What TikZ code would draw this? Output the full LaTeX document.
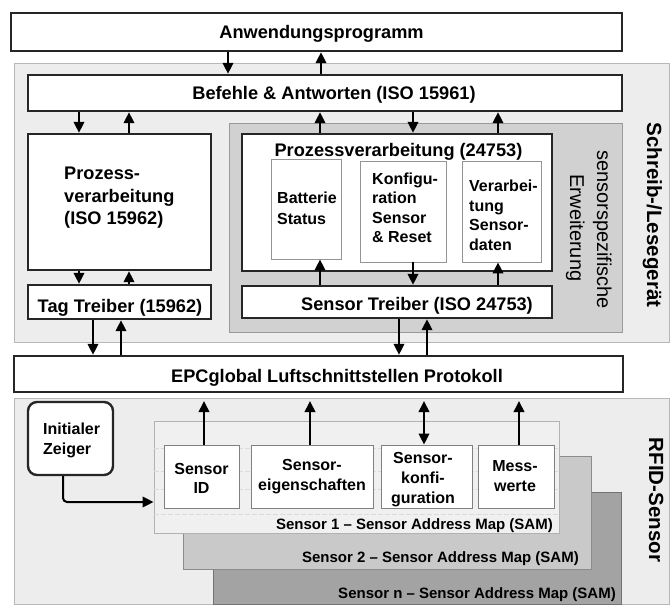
\documentclass[tikz,border=0pt]{standalone}
\usepackage{fontspec}
\setmainfont{Liberation Sans}
\usetikzlibrary{arrows.meta,fit}

\begin{document}
\begin{tikzpicture}[x=1pt,y=-1pt,
  frame/.style={draw=black!85, line width=2.4pt, fill=white, inner sep=0pt},
  zone/.style={draw=black!28, line width=0.8pt, fill=black!7, inner sep=0pt},
  extzone/.style={draw=black!40, line width=1pt, fill=black!18, inner sep=0pt},
  cell/.style={draw=black!42, line width=0.9pt, fill=white, inner sep=0pt},
  samcell/.style={draw=black!50, line width=0.9pt, fill=white, inner sep=0pt},
  samA/.style={draw=black!30, line width=0.9pt, fill=black!6, inner sep=0pt},
  samB/.style={draw=black!45, line width=0.9pt, fill=black!21, inner sep=0pt},
  samC/.style={draw=black!55, line width=0.9pt, fill=black!36, inner sep=0pt},
  big/.style={font=\bfseries\fontsize{18.2}{22.5}\selectfont, inner sep=0pt},
  small/.style={font=\bfseries\fontsize{16}{19.5}\selectfont, inner sep=0pt},
  samtxt/.style={font=\bfseries\fontsize{15}{18}\selectfont, inner sep=0pt, anchor=base east},
  side/.style={font=\bfseries\fontsize{20.5}{24}\selectfont, inner sep=0pt, rotate=-90, anchor=base},
  sidelight/.style={font=\fontsize{20}{24}\selectfont, inner sep=0pt, rotate=-90, anchor=base},
  arr/.style={line width=2pt, -{Triangle[length=11pt,width=10.5pt]}},
  dblarr/.style={line width=2pt, {Triangle[length=11pt,width=10.5pt]}-{Triangle[length=11pt,width=10.5pt]}},
  grid/.style={draw=black!14, line width=0.6pt, dash pattern=on 5pt off 2pt}
]
\useasboundingbox[fill=white] (0,0) rectangle (672,605);

% column positions of the connectors
\foreach \xx in {63,79,93,121,129,204,228,310,320,321,399,413,424,427,498,519}
  \coordinate (x\xx) at (\xx,0);
\coordinate (antenna) at (0,401);
\coordinate (bend) at (0,502);

% background zones
\node[zone, fit={(14,63) (669,342)}] (reader) {};
\node[extzone, fit={(229,123) (622,332)}] (ext) {};
\node[zone, fit={(14,398) (669,604)}] (rfid) {};

% application layer
\node[frame, fit={(11,13) (622,51)}] (app) {};
\node[frame, fit={(28,75) (622,111)}] (bef) {};

% ISO 15962 side
\node[frame, fit={(28,134) (211,270)}] (procL) {};
\node[frame, fit={(28,285) (211,319)}] (tag) {};

% ISO 24753 side
\node[frame, fit={(242,134) (552,271)}] (procS) {};
\node[frame, fit={(242,286) (552,318)}] (sdrv) {};
\node[cell, fit={(271,159) (341,259)}] (bat) {};
\node[cell, fit={(360,161) (446,262)}] (konf) {};
\node[cell, fit={(462,161) (541,262)}] (verb) {};

% air interface
\node[frame, fit={(14,356) (623,392)}] (epc) {};

% sensor address maps
\node[samC, fit={(213,492) (621,604)}] (samn) {};
\node[samB, fit={(183,456) (591,569)}] (sam2) {};
\node[samA, fit={(154,421) (559,533)}] (sam1) {};
\foreach \yy in {448,471,489,514}
  \draw[grid] (sam1.west |- 0,\yy) -- (sam1.east |- 0,\yy);
\node[samcell, fit={(164,445) (239,508)}] (sid) {};
\node[samcell, fit={(251,445) (373,508)}] (seig) {};
\node[samcell, fit={(381,445) (472,508)}] (skonf) {};
\node[samcell, fit={(478,445) (554,508)}] (mess) {};

\node[frame, rounded corners=9pt, fit={(28,402) (113,475)}] (zeiger) {};

% connectors
\draw[arr] (x228 |- app.south) -- (x228 |- bef.north);
\draw[arr] (x321 |- bef.north) -- (x321 |- app.south);

\draw[arr] (x79 |- bef.south) -- (x79 |- procL.north);
\draw[arr] (x129 |- procL.north) -- (x129 |- bef.south);
\draw[arr] (x79 |- procL.south) -- (x79 |- tag.north);
\draw[arr] (x129 |- tag.north) -- (x129 |- procL.south);
\draw[arr] (x93 |- tag.south) -- (x93 |- epc.north);
\draw[arr] (x121 |- epc.north) -- (x121 |- tag.south);

\draw[arr] (x320 |- procS.north) -- (x320 |- bef.south);
\draw[arr] (x413 |- bef.south) -- (x413 |- procS.north);
\draw[arr] (x498 |- procS.north) -- (x498 |- bef.south);
\draw[arr] (x320 |- sdrv.north) -- (x320 |- bat.south);
\draw[arr] (x413 |- konf.south) -- (x413 |- sdrv.north);
\draw[arr] (x498 |- sdrv.north) -- (x498 |- verb.south);
\draw[arr] (x399 |- sdrv.south) -- (x399 |- epc.north);
\draw[arr] (x427 |- epc.north) -- (x427 |- sdrv.south);

\draw[arr] (x204 |- sid.north) -- (x204 |- antenna);
\draw[arr] (x310 |- seig.north) -- (x310 |- antenna);
\draw[dblarr] (x424 |- skonf.north) -- (x424 |- antenna);
\draw[arr] (x519 |- mess.north) -- (x519 |- antenna);

\draw[arr, rounded corners=4pt] (x63 |- zeiger.south) |- (sam1.west |- bend);

% labels (multi-line nodes are placed by the baseline of their last line)
\node[big, anchor=base] (appT) at (321.5,38.5) {Anwendungsprogramm};
\node[big, anchor=base] (befT) at (334,99) {Befehle \& Antworten (ISO 15961)};
\node[big, anchor=base west, align=left] (procLT) at (64,224.5) {Prozess-\\verarbeitung\\(ISO 15962)};
\node[big, anchor=base] (tagT) at (120,312) {Tag Treiber (15962)};
\node[big, anchor=base] (procST) at (398.5,156) {Prozessverarbeitung (24753)};
\node[big, anchor=base] (sdrvT) at (417,310) {Sensor Treiber (ISO 24753)};
\node[big, anchor=base] (epcT) at (337,382) {EPCglobal Luftschnittstellen Protokoll};

\node[small, font=\bfseries\fontsize{16}{21}\selectfont, anchor=base west, align=left] (batT) at (277,224) {Batterie\\Status};
\node[small, anchor=base west, align=left] (konfT) at (372,242.5) {Konfigu-\\ration\\Sensor\\\& Reset};
\node[small, anchor=base west, align=left] (verbT) at (469,250) {Verarbei-\\tung\\Sensor-\\daten};

\node[small, font=\bfseries\fontsize{16}{20}\selectfont, anchor=base west, align=left] (zeigT) at (43,454) {Initialer\\Zeiger};
\node[small, font=\bfseries\fontsize{16}{19}\selectfont, anchor=base, align=center] (sidT) at (201.5,493) {Sensor\\ID};
\node[small, font=\bfseries\fontsize{16}{20}\selectfont, anchor=base, align=center] (seigT) at (312,490) {Sensor-\\eigenschaften};
\node[small, font=\bfseries\fontsize{16}{20}\selectfont, anchor=base, align=center] (skonfT) at (423,503) {Sensor-\\konfi-\\guration};
\node[small, font=\bfseries\fontsize{16}{20}\selectfont, anchor=base, align=center] (messT) at (515,491.5) {Mess-\\werte};

\node[samtxt] (sam1T) at (553,529) {Sensor 1 – Sensor Address Map (SAM)};
\node[samtxt] (sam2T) at (579,562) {Sensor 2 – Sensor Address Map (SAM)};
\node[samtxt] (samnT) at (616,598) {Sensor n – Sensor Address Map (SAM)};

\node[sidelight] (extA) at (597,229.5) {sensorspezifische};
\node[sidelight] (extB) at (570,228) {Erweiterung};
\node[side] (readerT) at (647,215) {Schreib-/Lesegerät};
\node[side] (rfidT) at (649,500) {RFID-Sensor};
\end{tikzpicture}
\end{document}
